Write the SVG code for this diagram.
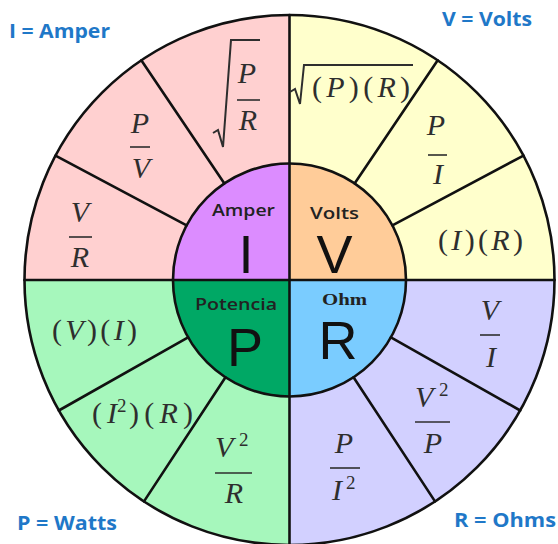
<svg xmlns="http://www.w3.org/2000/svg" width="558" height="544" viewBox="0 0 558 544">
<style>
.ln{stroke:#111;stroke-width:2.6;fill:none;stroke-linecap:round}
.rad{stroke:#2e2e2e;stroke-width:2;fill:none;stroke-linejoin:miter}
.f{font-family:"Liberation Serif","Times New Roman",serif;font-size:30px;fill:#2e2e2e}
.i{font-style:italic}
.m{text-anchor:middle}
.sup{font-size:19px}
.bar{stroke:#2e2e2e;stroke-width:1.6}
.key{font-family:"Open Sans","Liberation Sans",sans-serif;font-weight:700;font-size:20px;fill:#1f78c8}
.big{font-family:"Liberation Sans",Arial,sans-serif;font-size:54px;fill:#111;text-anchor:middle}
.sm{font-family:"Open Sans","Liberation Sans",sans-serif;font-weight:600;font-size:16px;fill:#222}
.ohm{font-family:"Liberation Serif","Times New Roman",serif;font-weight:700;font-size:17px;fill:#222}
</style>
<rect width="558" height="544" fill="#ffffff"/>

<g id="ring">
  <path d="M289.5,280 L24.5,280 A265,265 0 0 1 289.5,15 Z" fill="#ffd0d0"/>
  <path d="M289.5,280 L289.5,15 A265,265 0 0 1 554.5,280 Z" fill="#ffffcc"/>
  <path d="M289.5,280 L554.5,280 A265,265 0 0 1 289.5,545 Z" fill="#d2d0ff"/>
  <path d="M289.5,280 L289.5,545 A265,265 0 0 1 24.5,280 Z" fill="#a6f7bc"/>
</g>
<g id="core">
  <path d="M289.5,280 L173,280 A116.5,116.5 0 0 1 289.5,163.5 Z" fill="#dc8cff"/>
  <path d="M289.5,280 L289.5,163.5 A116.5,116.5 0 0 1 406,280 Z" fill="#ffcc99"/>
  <path d="M289.5,280 L406,280 A116.5,116.5 0 0 1 289.5,396.5 Z" fill="#7accff"/>
  <path d="M289.5,280 L289.5,396.5 A116.5,116.5 0 0 1 173,280 Z" fill="#00a865"/>
</g>

<g id="connectors">
  <circle class="ln" cx="289.5" cy="280" r="265" stroke-width="3"/>
  <circle class="ln" cx="289.5" cy="280" r="116.5"/>
  <line class="ln" x1="24.5" y1="280" x2="554.5" y2="280"/>
  <line class="ln" x1="289.5" y1="15" x2="289.5" y2="545"/>
  <line class="ln" x1="186.6" y1="225.3" x2="55.5" y2="155.6"/>
  <line class="ln" x1="224.4" y1="183.4" x2="141.3" y2="60.3"/>
  <line class="ln" x1="392.4" y1="225.3" x2="523.5" y2="155.6"/>
  <line class="ln" x1="354.6" y1="183.4" x2="437.7" y2="60.3"/>
  <line class="ln" x1="188.1" y1="337.4" x2="58.8" y2="410.5"/>
  <line class="ln" x1="225.5" y1="377.3" x2="144" y2="501.4"/>
  <line class="ln" x1="390.9" y1="337.4" x2="520.2" y2="410.5"/>
  <line class="ln" x1="353.5" y1="377.3" x2="435" y2="501.4"/>
</g>

<g id="node-I">
  <text class="sm" x="212" y="216" textLength="63" lengthAdjust="spacingAndGlyphs">Amper</text>
  <text class="big" x="246" y="273">I</text>
</g>
<g id="node-V">
  <text class="sm" x="310" y="219" textLength="49" lengthAdjust="spacingAndGlyphs">Volts</text>
  <text class="big" x="334.5" y="273">V</text>
</g>
<g id="node-P">
  <text class="sm" x="195" y="310" textLength="82" lengthAdjust="spacingAndGlyphs">Potencia</text>
  <text class="big" x="245" y="366">P</text>
</g>
<g id="node-R">
  <text class="ohm" x="322" y="305" textLength="45" lengthAdjust="spacingAndGlyphs">Ohm</text>
  <text class="big" x="338" y="359" font-size="52">R</text>
</g>

<g id="f-I-VR">
  <text class="f i m" x="80" y="222">V</text>
  <line class="bar" x1="69" y1="237" x2="92" y2="237"/>
  <text class="f i m" x="80" y="267">R</text>
</g>
<g id="f-I-PV">
  <text class="f i m" x="140" y="133">P</text>
  <line class="bar" x1="130" y1="147" x2="150" y2="147"/>
  <text class="f i m" x="141" y="178">V</text>
</g>
<g id="f-I-sqrtPR">
  <path class="rad" d="M213,133 L218,130 L223,147 L231,40 L260,40"/>
  <text class="f i m" x="247" y="83">P</text>
  <line class="bar" x1="237" y1="100" x2="260" y2="100"/>
  <text class="f i m" x="248" y="130">R</text>
</g>

<g id="f-V-sqrtPR">
  <path class="rad" d="M290,92 L295,89 L300,104 L304,65 L413,65"/>
  <text class="f" x="312" y="97" textLength="98" lengthAdjust="spacing">(<tspan class="i">P</tspan>)(<tspan class="i">R</tspan>)</text>
</g>
<g id="f-V-PI">
  <text class="f i m" x="436" y="135">P</text>
  <line class="bar" x1="428" y1="155" x2="447" y2="155"/>
  <text class="f i m" x="438" y="184">I</text>
</g>
<g id="f-V-IR">
  <text class="f" x="438" y="250" textLength="85" lengthAdjust="spacing">(<tspan class="i">I</tspan>)(<tspan class="i">R</tspan>)</text>
</g>

<g id="f-P-VI">
  <text class="f" x="52" y="340" textLength="85" lengthAdjust="spacing">(<tspan class="i">V</tspan>)(<tspan class="i">I</tspan>)</text>
</g>
<g id="f-P-I2R">
  <text class="f" x="92" y="423" textLength="25" lengthAdjust="spacing">(<tspan class="i">I</tspan></text>
  <text class="f sup" x="117" y="412">2</text>
  <text class="f" x="129" y="423" textLength="64" lengthAdjust="spacing">)(<tspan class="i">R</tspan>)</text>
</g>
<g id="f-P-V2R">
  <text class="f i" x="215" y="457">V</text>
  <text class="f sup" x="239" y="446">2</text>
  <line class="bar" x1="215" y1="473" x2="252" y2="473"/>
  <text class="f i m" x="234" y="503">R</text>
</g>

<g id="f-R-VI">
  <text class="f i m" x="490" y="320">V</text>
  <line class="bar" x1="480" y1="335" x2="500" y2="335"/>
  <text class="f i m" x="491" y="367">I</text>
</g>
<g id="f-R-V2P">
  <text class="f i" x="415" y="407">V</text>
  <text class="f sup" x="439" y="396">2</text>
  <line class="bar" x1="415" y1="422" x2="450" y2="422"/>
  <text class="f i m" x="433" y="453">P</text>
</g>
<g id="f-R-PI2">
  <text class="f i m" x="344" y="453">P</text>
  <line class="bar" x1="330" y1="468" x2="360" y2="468"/>
  <text class="f i" x="332" y="500">I</text>
  <text class="f sup" x="346" y="489">2</text>
</g>

<g id="legend">
  <text class="key" x="9" y="38" textLength="101" lengthAdjust="spacingAndGlyphs">I = Amper</text>
  <text class="key" x="442" y="26" textLength="90" lengthAdjust="spacingAndGlyphs">V = Volts</text>
  <text class="key" x="17" y="530" textLength="100" lengthAdjust="spacingAndGlyphs">P = Watts</text>
  <text class="key" x="454" y="527" textLength="102" lengthAdjust="spacingAndGlyphs">R = Ohms</text>
</g>
</svg>
